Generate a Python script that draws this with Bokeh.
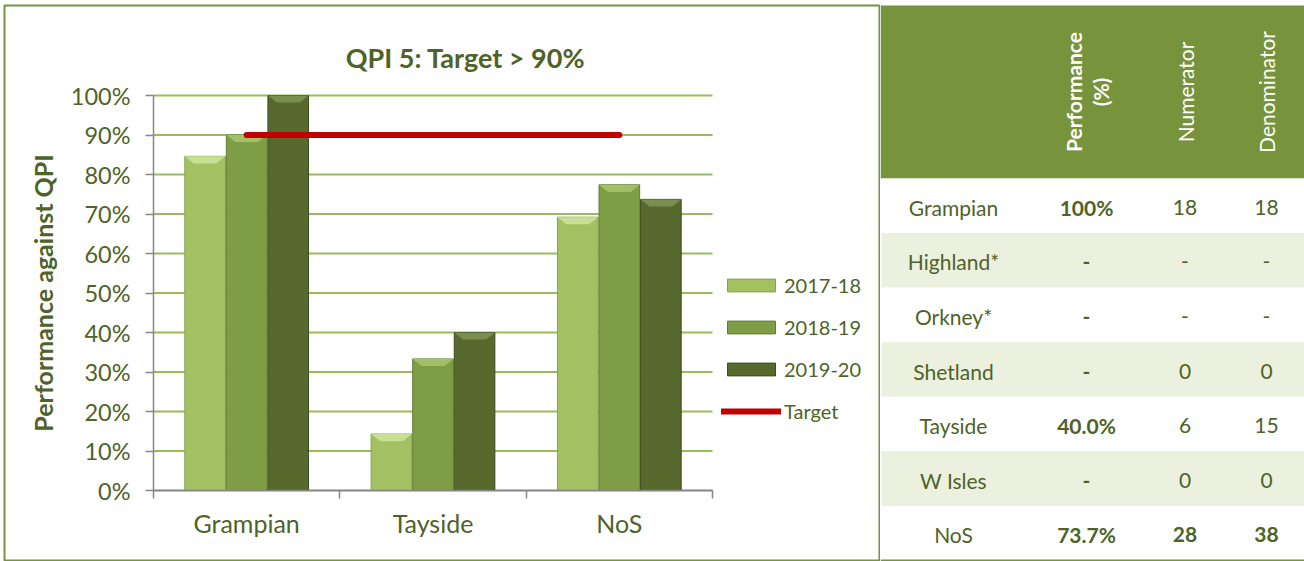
import numpy as np
from bokeh.plotting import figure
from bokeh.layouts import row
from bokeh.models import (Range1d, FixedTicker, Legend, LegendItem,
                          ColumnDataSource, PrintfTickFormatter)
from bokeh.core.properties import value
from bokeh.embed import file_html
from bokeh.resources import INLINE

# ---------------- data ----------------
categories = ["Grampian", "Tayside", "NoS"]
years = ["2017-18", "2018-19", "2019-20"]
perf_2017_18 = [84.6, 14.3, 69.2]
perf_2018_19 = [90.0, 33.3, 77.4]
perf_2019_20 = [100.0, 40.0, 73.7]
target = 90
y_ticks = [0, 10, 20, 30, 40, 50, 60, 70, 80, 90, 100]
chart_title = "QPI 5: Target > 90%"
y_label = "Performance against QPI"

table_regions = ["Grampian", "Highland*", "Orkney*", "Shetland", "Tayside", "W Isles", "NoS"]
table_performance = ["100%", "-", "-", "-", "40.0%", "-", "73.7%"]
table_numerator = ["18", "-", "-", "0", "6", "0", "28"]
table_denominator = ["18", "-", "-", "0", "15", "0", "38"]
table_headers = ["Performance", "(%)", "Numerator", "Denominator"]

# ---------------- styles ----------------
FONT = "Lato"
TXT = "#4F6228"
GREEN = "#77933C"
AXIS = "#868686"
fills = ["#A3C063", "#7F9D45", "#57692D"]
outlines = ["#86A34C", "#627C35", "#3E4C1F"]
bevels = ["#C9DE95", "#A2C167", "#7A8E50"]

W, H = 880, 561
# pixel geometry of the plotting area inside the chart canvas
PX_L, PX_R, PX_T, PX_B = 153, 712, 95, 490
ncat = len(categories)
xs_per_px = ncat / (PX_R - PX_L)
ys_per_px = 100 / (PX_B - PX_T)
x_range = Range1d(-PX_L * xs_per_px, ncat + (W - PX_R) * xs_per_px)
y_range = Range1d(-(H - PX_B) * ys_per_px, 100 + PX_T * ys_per_px)

# ---------------- chart ----------------
p = figure(width=W, height=H, x_range=x_range, y_range=y_range,
           output_backend="svg", toolbar_location=None, min_border=0)
p.background_fill_color = "white"
p.border_fill_color = "white"
p.outline_line_color = None
p.grid.visible = False
p.extra_x_ranges = {"px": Range1d(0, W)}
p.extra_y_ranges = {"px": Range1d(H, 0)}

# gridlines limited to the category span
p.segment(x0=0, x1=ncat, y0=y_ticks, y1=y_ticks, line_color="#9BBB59", line_width=2)

x_centres = np.arange(ncat) + 0.5
offsets = [-0.223, 0.0, 0.223]
bar_w = 0.218
series = [perf_2017_18, perf_2018_19, perf_2019_20]

renderers = []
for vals, off, fc, lc, bc in zip(series, offsets, fills, outlines, bevels):
    xs = x_centres + off
    tops = np.array(vals, dtype=float)
    src = ColumnDataSource(dict(x=xs, top=tops))
    r = p.vbar(x="x", top="top", bottom=0, width=bar_w, fill_color=fc,
               line_color=lc, line_width=1, source=src)
    renderers.append(r)
    bx = [[x - bar_w / 2, x + bar_w / 2, x + bar_w / 2 - 0.048, x - bar_w / 2 + 0.048] for x in xs]
    by = [[t, t, t - 1.8, t - 1.8] for t in tops]
    p.patches(xs=bx, ys=by, fill_color=bc, line_color=None)

tr = p.line(x=x_centres, y=[target] * ncat, line_color="#C00000",
            line_width=6, line_cap="round")

# axes (fixed at the data origin)
p.xaxis.fixed_location = 0
p.xaxis.bounds = (0, ncat)
p.xaxis.ticker = FixedTicker(ticks=list(x_centres), minor_ticks=list(range(ncat + 1)))
p.xaxis.major_label_overrides = {float(x): c for x, c in zip(x_centres, categories)}
p.xaxis.major_tick_line_color = None
p.xaxis.major_tick_out = 8
p.xaxis.major_tick_in = 0
p.xaxis.minor_tick_out = 8
p.xaxis.minor_tick_in = 0
p.xaxis.minor_tick_line_color = AXIS
p.xaxis.minor_tick_line_width = 1.5
p.xaxis.major_label_standoff = 9
p.xaxis.major_label_text_font_size = "25px"

p.yaxis.fixed_location = 0
p.yaxis.bounds = (0, 100)
p.yaxis.ticker = FixedTicker(ticks=y_ticks)
p.yaxis.formatter = PrintfTickFormatter(format="%d%%")
p.yaxis.major_tick_out = 8
p.yaxis.major_tick_in = 0
p.yaxis.major_tick_line_color = AXIS
p.yaxis.major_tick_line_width = 1.5
p.yaxis.minor_tick_line_color = None
p.yaxis.major_label_standoff = 15
p.yaxis.major_label_text_font_size = "23.5px"
p.yaxis.axis_label = y_label
p.yaxis.axis_label_text_font = FONT
p.yaxis.axis_label_text_font_size = "25px"
p.yaxis.axis_label_text_font_style = "bold"
p.yaxis.axis_label_text_color = TXT
p.yaxis.axis_label_standoff = 10

for ax in (p.xaxis, p.yaxis):
    ax.axis_line_color = AXIS
    ax.axis_line_width = 1.5
    ax.major_label_text_font = FONT
    ax.major_label_text_color = TXT

# title and frame border in canvas pixels
p.text(x=[465], y=[56.5], text=[chart_title], x_range_name="px", y_range_name="px",
       text_align="center", text_baseline="alphabetic", text_color=TXT,
       text_font=value(FONT), text_font_size="27px", text_font_style="bold")
p.quad(left=[4], right=[879], top=[5], bottom=[560], x_range_name="px", y_range_name="px",
       fill_color=None, line_color=GREEN, line_width=2)

legend = Legend(
    items=[LegendItem(label=y, renderers=[r]) for y, r in zip(years, renderers)]
    + [LegendItem(label="Target", renderers=[tr])],
    location=(721, 138), orientation="vertical", glyph_width=60, glyph_height=16,
    label_standoff=3, spacing=18, padding=0, margin=0, border_line_color=None,
    background_fill_alpha=0, label_text_font=FONT, label_text_font_size="20px",
    label_text_color=TXT, label_height=20)
p.add_layout(legend, "center")

# ---------------- table ----------------
TW = 424
t = figure(width=TW, height=H, x_range=Range1d(0, TW), y_range=Range1d(H, 0),
           output_backend="svg", toolbar_location=None, min_border=0,
           x_axis_type=None, y_axis_type=None)
t.grid.visible = False
t.outline_line_color = None
t.background_fill_color = "white"
t.border_fill_color = "white"

header_top, header_bottom, table_bottom = 5, 178, 560
t.quad(left=[0], right=[TW], top=[header_top], bottom=[header_bottom],
       fill_color=GREEN, line_color=None)

n = len(table_regions)
row_h = (table_bottom - header_bottom) / n
idx = np.arange(n)
row_top = header_bottom + idx * row_h
row_fill = ["white" if i % 2 == 0 else "#EBF1DE" for i in idx]
t.quad(left=1, right=TW, top=row_top, bottom=row_top + row_h, fill_color=row_fill, line_color=None)
t.segment(x0=[0], y0=[table_bottom], x1=[TW], y1=[table_bottom], line_color=GREEN, line_width=2)

row_y = row_top + row_h / 2 + 1.5
body_font = "21px"
col_x = [73, 206, 304.5, 386]
t.text(x=col_x[0], y=row_y, text=table_regions, text_align="center", text_baseline="middle",
       text_color=TXT, text_font=value(FONT), text_font_size=body_font)
t.text(x=col_x[1], y=row_y, text=table_performance, text_align="center", text_baseline="middle",
       text_color=TXT, text_font=value(FONT), text_font_size=body_font, text_font_style="bold")
total_style = ["bold" if i == n - 1 else "normal" for i in idx]
t.text(x=col_x[2], y=row_y, text=table_numerator, text_align="center", text_baseline="middle",
       text_color=TXT, text_font=value(FONT), text_font_size=body_font, text_font_style=total_style)
t.text(x=col_x[3], y=row_y, text=table_denominator, text_align="center", text_baseline="middle",
       text_color=TXT, text_font=value(FONT), text_font_size=body_font, text_font_style=total_style)

t.text(x=[193, 220, col_x[2], col_x[3]], y=[(header_top + header_bottom) / 2] * 4, text=table_headers,
       angle=np.pi / 2, text_align="center", text_baseline="middle", text_color="white",
       text_font=value(FONT), text_font_size="21px",
       text_font_style=["bold", "bold", "normal", "normal"])

layout = row(p, t, spacing=0)
open("out.html", "w").write(file_html(layout, INLINE))
